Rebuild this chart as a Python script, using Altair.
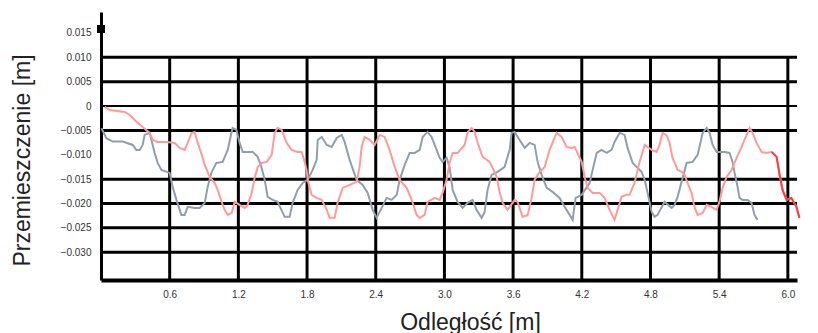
import altair as alt
import pandas as pd

# ---- data (distance in m, displacement in m) ----
dist_gray = [0.004, 0.047, 0.102, 0.190, 0.277, 0.309, 0.338, 0.364, 0.381, 0.425,
             0.469, 0.495, 0.528, 0.600, 0.626, 0.659, 0.702, 0.731, 0.757, 0.818,
             0.862, 0.906, 0.932, 0.964, 1.008, 1.063, 1.107, 1.139, 1.150, 1.183,
             1.211, 1.238, 1.325, 1.369, 1.401, 1.430, 1.456, 1.500, 1.543, 1.604,
             1.648, 1.674, 1.718, 1.762, 1.805, 1.849, 1.884, 1.893, 1.928, 1.972,
             2.015, 2.059, 2.103, 2.128, 2.172, 2.233, 2.286, 2.330, 2.373, 2.408,
             2.452, 2.495, 2.539, 2.583, 2.609, 2.653, 2.696, 2.740, 2.784, 2.810,
             2.853, 2.888, 2.915, 2.958, 2.984, 3.019, 3.045, 3.072, 3.115, 3.159,
             3.203, 3.246, 3.281, 3.325, 3.351, 3.377, 3.412, 3.465, 3.526, 3.570,
             3.587, 3.613, 3.657, 3.701, 3.744, 3.788, 3.814, 3.849, 3.893, 3.945,
             4.006, 4.050, 4.094, 4.120, 4.146, 4.199, 4.269, 4.295, 4.330, 4.373,
             4.417, 4.460, 4.486, 4.530, 4.574, 4.600, 4.644, 4.722, 4.749, 4.775,
             4.810, 4.836, 4.862, 4.923, 4.985, 5.011, 5.037, 5.072, 5.116, 5.168,
             5.212, 5.256, 5.291, 5.317, 5.343, 5.378, 5.448, 5.491, 5.517, 5.535,
             5.561, 5.578, 5.604, 5.648, 5.683, 5.709, 5.735]
disp_gray = [-0.00455, -0.00660, -0.00730, -0.00730, -0.00798, -0.00900, -0.00900, -0.00798, -0.00593, -0.00552,
             -0.00962, -0.01167, -0.01310, -0.01372, -0.01659, -0.01926, -0.02234, -0.02234, -0.02069, -0.02090,
             -0.02090, -0.01987, -0.01659, -0.01372, -0.01167, -0.01146, -0.00900, -0.00552, -0.00449, -0.00490,
             -0.00757, -0.00941, -0.00941, -0.01044, -0.01249, -0.01515, -0.01864, -0.01926, -0.01967, -0.02274,
             -0.02274, -0.01987, -0.01721, -0.01577, -0.01515, -0.01310, -0.01105, -0.00695, -0.00634, -0.00798,
             -0.00839, -0.00655, -0.00593, -0.00736, -0.01105, -0.01515, -0.01618, -0.01782, -0.02131, -0.02295,
             -0.02090, -0.01885, -0.01926, -0.01823, -0.01515, -0.01208, -0.00962, -0.00962, -0.00900, -0.00634,
             -0.00531, -0.00634, -0.00798, -0.01064, -0.01146, -0.01064, -0.01249, -0.01721, -0.01967, -0.02090,
             -0.01987, -0.01926, -0.02131, -0.02295, -0.02172, -0.01721, -0.01413, -0.01351, -0.01249, -0.00900,
             -0.00552, -0.00531, -0.00695, -0.00859, -0.00757, -0.00798, -0.01146, -0.01413, -0.01680, -0.01762,
             -0.01885, -0.02069, -0.02234, -0.02336, -0.01885, -0.01823, -0.01577, -0.01310, -0.00962, -0.00900,
             -0.00962, -0.00900, -0.00736, -0.00552, -0.00593, -0.00859, -0.01167, -0.01351, -0.01515, -0.01782,
             -0.02172, -0.02274, -0.02234, -0.01967, -0.02090, -0.02028, -0.01864, -0.01556, -0.01167, -0.01146,
             -0.01003, -0.00552, -0.00449, -0.00552, -0.00798, -0.00941, -0.00941, -0.00962, -0.01146, -0.01372,
             -0.01659, -0.01885, -0.01926, -0.01926, -0.01987, -0.02234, -0.02336]

dist_red = [0.032, 0.076, 0.207, 0.251, 0.312, 0.364, 0.425, 0.452, 0.495, 0.574,
            0.644, 0.687, 0.731, 0.757, 0.792, 0.818, 0.845, 0.880, 0.906, 0.949,
            0.993, 1.019, 1.054, 1.080, 1.107, 1.142, 1.168, 1.211, 1.255, 1.281,
            1.316, 1.342, 1.369, 1.404, 1.447, 1.491, 1.517, 1.543, 1.578, 1.622,
            1.666, 1.718, 1.753, 1.779, 1.796, 1.805, 1.840, 1.884, 1.928, 1.972,
            1.997, 2.041, 2.067, 2.111, 2.172, 2.233, 2.259, 2.277, 2.303, 2.347,
            2.390, 2.434, 2.478, 2.521, 2.565, 2.609, 2.670, 2.714, 2.757, 2.784,
            2.827, 2.853, 2.915, 2.958, 2.984, 3.019, 3.045, 3.072, 3.115, 3.176,
            3.203, 3.238, 3.264, 3.290, 3.334, 3.395, 3.421, 3.456, 3.482, 3.508,
            3.552, 3.613, 3.639, 3.683, 3.727, 3.762, 3.788, 3.832, 3.876, 3.919,
            3.980, 4.024, 4.067, 4.111, 4.137, 4.199, 4.225, 4.251, 4.295, 4.356,
            4.399, 4.443, 4.486, 4.513, 4.547, 4.591, 4.617, 4.661, 4.705, 4.749,
            4.810, 4.853, 4.879, 4.905, 4.940, 4.967, 4.993, 5.037, 5.072, 5.098,
            5.124, 5.159, 5.184, 5.212, 5.256, 5.291, 5.333, 5.378, 5.402, 5.430,
            5.465, 5.509, 5.552, 5.596, 5.640, 5.666, 5.692, 5.727, 5.771, 5.814,
            5.858, 5.902, 5.928, 5.954, 5.989, 6.031, 6.075, 6.101]
disp_red = [-0.00018, -0.00080, -0.00121, -0.00183, -0.00326, -0.00429, -0.00552, -0.00695, -0.00736, -0.00736,
            -0.00757, -0.00859, -0.00900, -0.00757, -0.00552, -0.00531, -0.00757, -0.01003, -0.01208, -0.01454,
            -0.01577, -0.01721, -0.01967, -0.02131, -0.02234, -0.02193, -0.01967, -0.02028, -0.02090, -0.02028,
            -0.01782, -0.01474, -0.01249, -0.01167, -0.01146, -0.01003, -0.00552, -0.00449, -0.00490, -0.00757,
            -0.00900, -0.00941, -0.00941, -0.01146, -0.01310, -0.01515, -0.01823, -0.01885, -0.01926, -0.02131,
            -0.02295, -0.02295, -0.01987, -0.01680, -0.01618, -0.01556, -0.01249, -0.00839, -0.00634, -0.00695,
            -0.00798, -0.00593, -0.00634, -0.00900, -0.01249, -0.01515, -0.01680, -0.01926, -0.02234, -0.02295,
            -0.02234, -0.01967, -0.01885, -0.01926, -0.01782, -0.01515, -0.01167, -0.00962, -0.00962, -0.00798,
            -0.00531, -0.00449, -0.00531, -0.00757, -0.01044, -0.01146, -0.01270, -0.01454, -0.01762, -0.01987,
            -0.02131, -0.01926, -0.01967, -0.02274, -0.02234, -0.01885, -0.01515, -0.01351, -0.01249, -0.00900,
            -0.00552, -0.00634, -0.00839, -0.00859, -0.00839, -0.01146, -0.01454, -0.01680, -0.01782, -0.01782,
            -0.01885, -0.02131, -0.02336, -0.02131, -0.01864, -0.01823, -0.01823, -0.01577, -0.01146, -0.00798,
            -0.00900, -0.00941, -0.00798, -0.00552, -0.00593, -0.00757, -0.01064, -0.01310, -0.01351, -0.01413,
            -0.01577, -0.01782, -0.02069, -0.02234, -0.02193, -0.02028, -0.02069, -0.02131, -0.01967, -0.01680,
            -0.01454, -0.01310, -0.01064, -0.00839, -0.00593, -0.00449, -0.00552, -0.00757, -0.00941, -0.00962,
            -0.00941, -0.01044, -0.01413, -0.01721, -0.01926, -0.01885, -0.02069, -0.02295]

x_ticks = [0.6, 1.2, 1.8, 2.4, 3.0, 3.6, 4.2, 4.8, 5.4, 6.0]
y_ticks = [0.015, 0.010, 0.005, 0.0, -0.005, -0.010, -0.015, -0.020, -0.025, -0.030]
h_grid = [0.010, 0.005, 0.0, -0.005, -0.015, -0.020, -0.025, -0.030]
x_domain = [0.0, 6.08]
y_domain = [-0.0357, 0.0193]
grid_top = 0.010
red_bright_from = 5.85

df_gray = pd.DataFrame({"x": dist_gray, "y": disp_gray})
df_red = pd.DataFrame({"x": dist_red, "y": disp_red})
df_xg = pd.DataFrame({"v": x_ticks})
df_hg = pd.DataFrame({"v": h_grid})

xs = alt.Scale(domain=x_domain, nice=False, zero=False)
ys = alt.Scale(domain=y_domain, nice=False, zero=False)

x_axis = alt.Axis(values=x_ticks, format=".1f", title="Odległość [m]",
                  grid=False, ticks=False, domainColor="black", domainWidth=4,
                  labelFontSize=10, labelColor="#333", labelPadding=9,
                  labelFont="Liberation Sans", labelOverlap=False,
                  titleFont="Liberation Sans", titleFontSize=23, titleFontWeight="normal",
                  titleColor="#222", titleX=369, titleY=42, titleBaseline="middle")
y_axis = alt.Axis(values=y_ticks, title="Przemieszczenie [m]",
                  labelExpr="datum.value == 0 ? '0' : format(datum.value, '.3f')",
                  grid=False, ticks=False, domainColor="black", domainWidth=3,
                  labelFontSize=10, labelColor="#333", labelPadding=10,
                  labelFont="Liberation Sans", labelOverlap=False, labelBound=False,
                  titleFont="Liberation Sans", titleFontSize=23, titleFontWeight="normal",
                  titleColor="#222", titleX=-79, titleY=148, titleBaseline="middle",
                  titleAngle=270)

vgrid = alt.Chart(df_xg).mark_rule(color="black", strokeWidth=3).encode(
    x=alt.X("v:Q", scale=xs, axis=x_axis),
    y=alt.Y(datum=grid_top, scale=ys, axis=y_axis),
    y2=alt.Y2(datum=y_domain[0]),
)
hgrid = alt.Chart(df_hg).mark_rule(color="black").encode(
    y=alt.Y("v:Q", scale=ys, axis=y_axis),
    strokeWidth=alt.condition(alt.datum.v == 0, alt.value(2), alt.value(3)),
)
arrow = alt.Chart(df_xg).mark_rule(color="black", strokeWidth=7).encode(
    x=alt.value(0), y=alt.value(13), y2=alt.value(21)
)
gray = alt.Chart(df_gray).mark_line(color="#929eaa", strokeWidth=2, clip=False).encode(
    x=alt.X("x:Q", scale=xs, axis=x_axis), y=alt.Y("y:Q", scale=ys, axis=y_axis), order="x:Q"
)
red = alt.Chart(df_red).mark_line(color="#ff9a9a", strokeWidth=2, clip=False).encode(
    x=alt.X("x:Q", scale=xs, axis=x_axis), y=alt.Y("y:Q", scale=ys, axis=y_axis), order="x:Q"
)
red_tail = alt.Chart(df_red).transform_filter(alt.datum.x >= red_bright_from).mark_line(
    color="#ff3c3c", strokeWidth=2, clip=False
).encode(x=alt.X("x:Q", scale=xs, axis=x_axis), y=alt.Y("y:Q", scale=ys, axis=y_axis), order="x:Q")

chart = alt.layer(vgrid, hgrid, arrow, gray, red, red_tail).properties(
    width=696, height=268,
    autosize=alt.AutoSizeParams(type="none"),
    padding={"left": 101, "top": 12, "right": 21, "bottom": 53},
    background="white",
).configure_view(strokeWidth=0).configure_axis(labelOverlap=False)

chart.save("out.html", embed_options={"renderer": "svg", "actions": False})
